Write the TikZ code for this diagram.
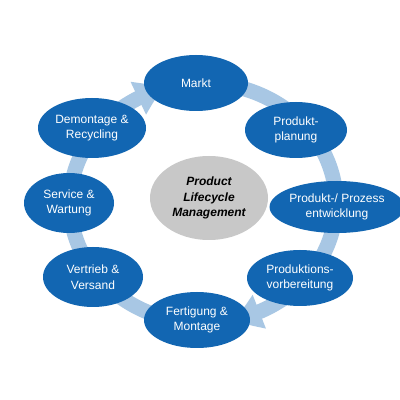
\documentclass[tikz,border=0pt]{standalone}
\usepackage{fontspec}
\setmainfont{Liberation Sans}
\usetikzlibrary{shapes.geometric,arrows.meta,bending,calc}
\definecolor{ringblue}{RGB}{168,199,228}
\definecolor{ellblue}{RGB}{18,102,178}
\definecolor{plmgray}{RGB}{200,200,200}
\tikzset{
  phase/.style={ellipse, fill=ellblue, inner sep=0pt, text=white,
    font=\fontsize{12}{15.5}\selectfont, align=center},
  center/.style={ellipse, fill=plmgray, inner sep=0pt, text=black,
    font=\fontsize{12}{15.5}\selectfont\bfseries\itshape, align=center},
  ring/.style={draw=ringblue, line width=15pt},
  ringtip/.style={-{Triangle[width=34pt,length=28pt,bend]}}
}
\begin{document}
\begin{tikzpicture}[x=1pt,y=1pt]
\useasboundingbox (0,0) rectangle (400,400);
\fill[white] (0,0) rectangle (400,400);
\coordinate (rc) at (203,197);
% ring
\draw[ring,ringtip] ($(rc)+(265:133 and 120)$) arc[start angle=265, end angle=107, x radius=133, y radius=120];
\draw[ring,ringtip] ($(rc)+(90:133 and 120)$) arc[start angle=90, end angle=-77, x radius=133, y radius=120];
% nodes
\node[center, minimum width=118pt, minimum height=84pt] (plm) at (209,202) {Product\\Lifecycle\\Management};
\node[phase, minimum width=104pt, minimum height=56pt] (markt) at (196,317) {Markt};
\node[phase, minimum width=102pt, minimum height=56pt] (plan) at (296,270) {Produkt-\\planung};
\node[phase, minimum width=104pt, minimum height=52pt] (entw) at (337,193) {Produkt-/ Prozess\\entwicklung};
\node[phase, minimum width=106pt, minimum height=56pt] (vorb) at (300,122) {Produktions-\\vorbereitung};
\node[phase, minimum width=106pt, minimum height=56pt] (fert) at (197,80) {Fertigung \&\\Montage};
\node[phase, minimum width=100pt, minimum height=60pt] (vert) at (93,123) {Vertrieb \&\\Versand};
\node[phase, minimum width=90pt, minimum height=60pt] (serv) at (69,197) {Service \&\\Wartung};
\node[phase, minimum width=108pt, minimum height=60pt] (demo) at (92,272) {Demontage \&\\Recycling};
\end{tikzpicture}
\end{document}
